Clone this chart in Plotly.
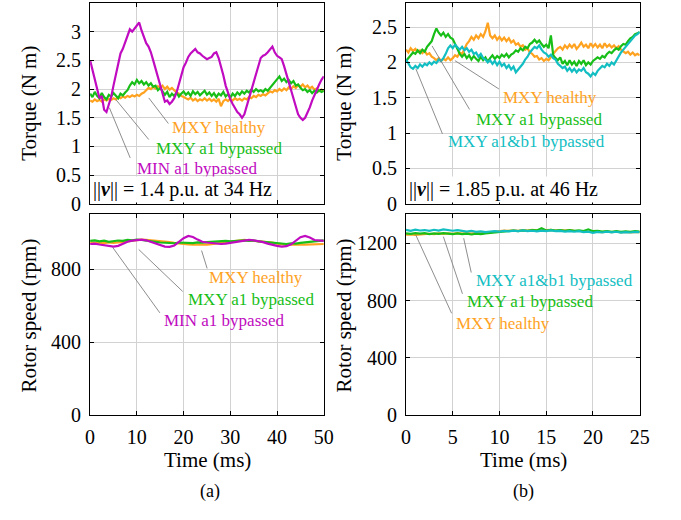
import plotly.graph_objects as go

# ---------------- data ----------------
# (a) 1.4 p.u. at 34 Hz, 0.5 ms sampling for torque, 1 ms for speed
t_a_torque = [i * 0.5 for i in range(101)]
t_a_speed = [float(i) for i in range(51)]
# (b) 1.85 p.u. at 46 Hz, 0.25 ms sampling for torque, 0.5 ms for speed
t_b_torque = [i * 0.25 for i in range(101)]
t_b_speed = [i * 0.5 for i in range(51)]

torque_a_mxy_healthy = [
    1.80, 1.78, 1.82, 1.79, 1.81, 1.78, 1.82, 1.80, 1.83, 1.81, 1.84, 1.82, 1.86, 1.84, 1.87, 1.85,
    1.88, 1.86, 1.89, 1.87, 1.90, 1.88, 1.92, 1.94, 1.98, 2.02, 2.00, 2.04, 2.01, 2.05, 2.02, 2.06,
    2.00, 2.04, 1.99, 2.02, 1.98, 1.94, 1.92, 1.88, 1.86, 1.84, 1.82, 1.85, 1.80, 1.83, 1.79, 1.82,
    1.80, 1.84, 1.80, 1.83, 1.79, 1.82, 1.78, 1.83, 1.70, 1.79, 1.82, 1.79, 1.83, 1.80, 1.84, 1.81,
    1.83, 1.80, 1.84, 1.82, 1.86, 1.84, 1.88, 1.86, 1.90, 1.88, 1.91, 1.89, 1.93, 1.96, 1.94, 1.98,
    1.96, 2.00, 1.97, 2.01, 1.98, 2.03, 2.00, 2.05, 2.02, 2.07, 2.04, 2.08, 2.03, 2.06, 2.01, 2.04,
    1.99, 2.01, 1.96, 1.99, 1.97]
torque_a_mxy_a1 = [
    1.92, 1.86, 1.95, 1.88, 1.84, 1.93, 1.86, 1.82, 1.90, 1.87, 1.93, 1.88, 1.84, 1.92, 1.89, 1.94,
    1.98, 2.06, 2.12, 2.08, 2.16, 2.10, 2.14, 2.08, 2.12, 2.06, 2.10, 2.04, 2.06, 1.98, 2.02, 1.96,
    1.90, 1.95, 1.86, 1.92, 1.88, 1.94, 1.87, 1.92, 1.96, 1.90, 1.94, 1.88, 1.96, 1.91, 1.95, 1.89,
    1.93, 1.97, 1.90, 1.94, 1.88, 1.93, 1.86, 1.92, 1.89, 1.95, 1.87, 1.91, 1.85, 1.92, 1.88, 1.94,
    1.90, 1.96, 1.92, 1.97, 1.94, 1.99, 1.95, 2.00, 1.96, 1.98, 1.95, 2.00, 1.97, 2.02, 2.06, 2.12,
    2.16, 2.22, 2.14, 2.18, 2.12, 2.16, 2.10, 2.14, 2.06, 2.08, 2.02, 1.98, 2.00, 1.95, 1.98, 1.93,
    1.97, 1.94, 1.98, 1.95, 1.97]
torque_a_min_a1 = [
    2.50, 2.34, 2.14, 1.98, 1.84, 1.88, 1.64, 1.60, 1.72, 1.86, 2.06, 2.26, 2.44, 2.62, 2.70, 2.82,
    2.96, 3.04, 3.00, 3.06, 3.10, 3.16, 3.02, 2.90, 2.80, 2.74, 2.64, 2.50, 2.36, 2.22, 2.06, 1.90,
    1.78, 1.80, 1.74, 1.78, 1.84, 1.94, 2.08, 2.22, 2.38, 2.46, 2.56, 2.62, 2.66, 2.70, 2.64, 2.62,
    2.58, 2.55, 2.52, 2.54, 2.56, 2.62, 2.64, 2.54, 2.40, 2.24, 2.06, 1.92, 1.82, 1.74, 1.66, 1.60,
    1.56, 1.50, 1.56, 1.70, 1.88, 2.00, 2.12, 2.26, 2.42, 2.54, 2.58, 2.60, 2.64, 2.70, 2.74, 2.64,
    2.58, 2.55, 2.52, 2.40, 2.24, 2.12, 1.98, 1.84, 1.70, 1.56, 1.50, 1.46, 1.50, 1.58, 1.68, 1.80,
    1.90, 2.00, 2.08, 2.16, 2.22]

speed_a_mxy_healthy = [
    945, 944, 946, 943, 946, 944, 947, 948, 952, 956, 960, 962, 960, 958, 955, 952, 950, 948, 944,
    940, 938, 936, 935, 934, 936, 935, 937, 940, 944, 948, 952, 955, 958, 960, 958, 956, 954, 952,
    950, 946, 940, 936, 935, 934, 936, 935, 934, 936, 935, 937, 938]
speed_a_mxy_a1 = [
    955, 958, 952, 956, 950, 953, 957, 955, 960, 958, 962, 960, 958, 955, 950, 946, 944, 945, 942,
    946, 944, 945, 943, 947, 945, 948, 950, 952, 950, 955, 952, 954, 956, 958, 955, 957, 952, 950,
    948, 945, 940, 942, 938, 942, 940, 944, 946, 950, 952, 955, 958]
speed_a_min_a1 = [
    938, 940, 935, 932, 928, 924, 928, 940, 950, 956, 960, 962, 958, 950, 940, 930, 924, 922, 930,
    950, 970, 982, 976, 962, 950, 946, 942, 940, 938, 940, 944, 950, 956, 960, 960, 958, 955, 948,
    940, 932, 928, 924, 926, 936, 955, 975, 982, 974, 960, 956, 955]

torque_b_mxy_healthy = [
    2.18, 2.14, 2.20, 2.16, 2.19, 2.15, 2.17, 2.13, 2.16, 2.11, 2.13, 2.08, 2.06, 2.03, 2.06, 2.02,
    2.05, 2.03, 2.07, 2.03, 2.06, 2.10, 2.08, 2.14, 2.12, 2.20, 2.26, 2.30, 2.36, 2.32, 2.38, 2.34,
    2.40, 2.36, 2.44, 2.56, 2.38, 2.34, 2.38, 2.32, 2.36, 2.31, 2.35, 2.30, 2.34, 2.28, 2.31, 2.25,
    2.27, 2.22, 2.24, 2.18, 2.20, 2.14, 2.12, 2.08, 2.09, 2.04, 2.06, 2.02, 2.05, 2.03, 2.08, 2.12,
    2.16, 2.20, 2.22, 2.18, 2.24, 2.20, 2.25, 2.21, 2.26, 2.19, 2.23, 2.28, 2.22, 2.25, 2.20, 2.27,
    2.22, 2.26, 2.21, 2.25, 2.20, 2.27, 2.22, 2.25, 2.21, 2.24, 2.20, 2.23, 2.18, 2.16, 2.13, 2.15,
    2.11, 2.14, 2.10, 2.12, 2.10]
torque_b_mxy_a1 = [
    2.02, 2.06, 2.10, 2.14, 2.12, 2.17, 2.13, 2.18, 2.15, 2.22, 2.26, 2.30, 2.40, 2.48, 2.42, 2.38,
    2.42, 2.36, 2.40, 2.35, 2.33, 2.26, 2.18, 2.12, 2.08, 2.12, 2.06, 2.10, 2.04, 2.09, 2.05, 2.02,
    2.08, 2.03, 2.07, 2.01, 2.06, 2.10, 2.05, 2.09, 2.06, 2.11, 2.08, 2.12, 2.07, 2.11, 2.13, 2.17,
    2.15, 2.20, 2.17, 2.22, 2.20, 2.26, 2.28, 2.32, 2.28, 2.31, 2.26, 2.22, 2.25, 2.20, 2.38, 2.10,
    2.06, 2.03, 2.07, 1.98, 2.02, 1.96, 2.03, 1.97, 2.01, 1.95, 2.02, 1.98, 2.03, 1.96, 2.00, 1.97,
    2.02, 2.04, 2.07, 2.05, 2.09, 2.07, 2.12, 2.15, 2.13, 2.17, 2.20, 2.18, 2.23, 2.26, 2.25, 2.30,
    2.34, 2.36, 2.40, 2.41, 2.43]
torque_b_mxy_a1b1 = [
    2.04, 1.98, 1.93, 1.91, 1.95, 1.92, 1.97, 1.94, 1.98, 1.96, 2.00, 1.97, 2.01, 1.99, 2.04, 2.02,
    2.06, 2.12, 2.20, 2.24, 2.20, 2.25, 2.21, 2.18, 2.22, 2.17, 2.20, 2.15, 2.18, 2.12, 2.14, 2.08,
    2.12, 2.06, 2.04, 2.00, 2.03, 1.98, 2.02, 1.96, 2.01, 1.95, 1.98, 1.92, 1.96, 1.90, 1.94, 1.86,
    1.90, 1.94, 1.98, 2.04, 2.08, 2.14, 2.18, 2.22, 2.20, 2.24, 2.18, 2.14, 2.12, 2.08, 2.11, 2.06,
    2.04, 1.98, 1.95, 1.92, 1.94, 1.88, 1.92, 1.87, 1.91, 1.86, 1.90, 1.88, 1.92, 1.86, 1.84, 1.80,
    1.85, 1.82, 1.88, 1.92, 1.95, 1.93, 1.98, 1.95, 2.00, 1.97, 2.03, 2.08, 2.14, 2.18, 2.22, 2.26,
    2.30, 2.34, 2.38, 2.40, 2.43]

speed_b_mxy_healthy = [
    1258, 1261, 1257, 1260, 1262, 1265, 1263, 1267, 1264, 1268, 1265, 1269, 1266, 1270, 1267, 1271,
    1268, 1272, 1276, 1280, 1284, 1287, 1285, 1289, 1286, 1291, 1288, 1292, 1289, 1293, 1290, 1292,
    1288, 1291, 1287, 1290, 1286, 1284, 1282, 1280, 1278, 1281, 1277, 1280, 1276, 1279, 1275, 1278,
    1274, 1277, 1276]
speed_b_mxy_a1 = [
    1268, 1264, 1270, 1266, 1269, 1263, 1268, 1265, 1270, 1266, 1263, 1267, 1262, 1266, 1260, 1265,
    1262, 1267, 1270, 1275, 1280, 1284, 1282, 1287, 1284, 1289, 1286, 1290, 1288, 1303, 1288, 1292,
    1287, 1291, 1286, 1290, 1285, 1289, 1284, 1296, 1283, 1286, 1280, 1284, 1279, 1283, 1278, 1282,
    1279, 1283, 1280]
speed_b_mxy_a1b1 = [
    1292, 1286, 1294, 1288, 1291, 1285, 1293, 1287, 1295, 1289, 1286, 1290, 1283, 1280, 1285, 1278,
    1282, 1276, 1281, 1284, 1280, 1285, 1282, 1287, 1283, 1288, 1284, 1286, 1282, 1287, 1284, 1288,
    1283, 1285, 1280, 1284, 1279, 1283, 1276, 1280, 1272, 1278, 1274, 1280, 1275, 1279, 1273, 1277,
    1274, 1278, 1276]

torque_ticks_a = [0, 0.5, 1, 1.5, 2, 2.5, 3]
torque_ticks_b = [0, 0.5, 1, 1.5, 2, 2.5]
speed_ticks_a = [0, 400, 800]
speed_ticks_b = [0, 400, 800, 1200]
time_ticks_a = [0, 10, 20, 30, 40, 50]
time_ticks_b = [0, 5, 10, 15, 20, 25]

# ---------------- styling ----------------
ORANGE = "#FFA21F"
GREEN = "#17BE17"
MAGENTA = "#C00BC0"
CYAN = "#12BEC2"
LEADER = "#808080"
SERIF = "Liberation Serif, Times New Roman, serif"
LW = 2.2

fig = go.Figure()


def add_line(x, y, color, xa, ya):
    fig.add_trace(go.Scatter(x=x, y=y, mode="lines", xaxis=xa, yaxis=ya,
                             line=dict(color=color, width=LW), showlegend=False,
                             hoverinfo="skip"))


# (a) torque
add_line(t_a_torque, torque_a_mxy_healthy, ORANGE, "x", "y")
add_line(t_a_torque, torque_a_mxy_a1, GREEN, "x", "y")
add_line(t_a_torque, torque_a_min_a1, MAGENTA, "x", "y")
# (b) torque
add_line(t_b_torque, torque_b_mxy_healthy, ORANGE, "x2", "y2")
add_line(t_b_torque, torque_b_mxy_a1, GREEN, "x2", "y2")
add_line(t_b_torque, torque_b_mxy_a1b1, CYAN, "x2", "y2")
# (a) speed
add_line(t_a_speed, speed_a_mxy_healthy, ORANGE, "x3", "y3")
add_line(t_a_speed, speed_a_mxy_a1, GREEN, "x3", "y3")
add_line(t_a_speed, speed_a_min_a1, MAGENTA, "x3", "y3")
# (b) speed
add_line(t_b_speed, speed_b_mxy_healthy, ORANGE, "x4", "y4")
add_line(t_b_speed, speed_b_mxy_a1, GREEN, "x4", "y4")
add_line(t_b_speed, speed_b_mxy_a1b1, CYAN, "x4", "y4")

tickfont = dict(family=SERIF, size=20, color="black")
common = dict(showline=True, linecolor="black", linewidth=1, mirror="ticks",
              ticks="inside", ticklen=4, tickcolor="black", tickwidth=1,
              showgrid=True, gridcolor="#d2d2d2", gridwidth=1, zeroline=False,
              tickfont=tickfont, ticklabelstandoff=4)

dom_left = [0.1278, 0.4787]
dom_right = [0.6021, 0.9530]
dom_top = [0.5995, 0.9942]
dom_bot = [0.1840, 0.5788]

fig.update_layout(
    width=681, height=520, margin=dict(l=0, r=0, t=0, b=0),
    paper_bgcolor="white", plot_bgcolor="white",
    font=dict(family=SERIF, color="black"),
    xaxis=dict(domain=dom_left, anchor="y", range=[0, 50], tickvals=time_ticks_a,
               showticklabels=False, **common),
    yaxis=dict(domain=dom_top, anchor="x", range=[0, 3.5], tickvals=torque_ticks_a,
               ticktext=[f"{v:g}" for v in torque_ticks_a], **common),
    xaxis2=dict(domain=dom_right, anchor="y2", range=[0, 25], tickvals=time_ticks_b,
                showticklabels=False, **common),
    yaxis2=dict(domain=dom_top, anchor="x2", range=[0, 2.84], tickvals=torque_ticks_b,
                ticktext=[f"{v:g}" for v in torque_ticks_b], **common),
    xaxis3=dict(domain=dom_left, anchor="y3", range=[0, 50], tickvals=time_ticks_a, **common),
    yaxis3=dict(domain=dom_bot, anchor="x3", range=[0, 1100], tickvals=speed_ticks_a, **common),
    xaxis4=dict(domain=dom_right, anchor="y4", range=[0, 25], tickvals=time_ticks_b, **common),
    yaxis4=dict(domain=dom_bot, anchor="x4", range=[0, 1400], tickvals=speed_ticks_b, **common),
)

# leader lines from curves to their labels
leaders = [
    ("x", "y", 12.55, 1.846, 16.74, 1.40),
    ("x", "y", 5.5, 1.817, 12.55, 1.12),
    ("x", "y", 4.12, 1.675, 8.58, 0.80),
    ("x2", "y2", 5.23, 2.025, 9.94, 1.624),
    ("x2", "y2", 2.79, 2.232, 6.8, 1.334),
    ("x2", "y2", 1.05, 1.91, 3.9, 0.989),
    ("x3", "y3", 23.85, 902, 25.04, 804),
    ("x3", "y3", 10.4, 908, 19.81, 678),
    ("x3", "y3", 4.81, 920, 14.92, 561),
    ("x4", "y4", 6.17, 1234, 6.98, 995),
    ("x4", "y4", 4.0, 1245, 6.04, 847),
    ("x4", "y4", 1.05, 1256, 4.88, 711),
]
for xr, yr, x0, y0, x1, y1 in leaders:
    fig.add_shape(type="line", xref=xr, yref=yr, x0=x0, y0=y0, x1=x1, y1=y1,
                  line=dict(color=LEADER, width=0.9))

labels = [
    ("x", "y", 27.6, 1.33, "MXY healthy", ORANGE),
    ("x", "y", 27.5, 0.97, "MXY a1 bypassed", GREEN),
    ("x", "y", 22.8, 0.62, "MIN a1 bypassed", MAGENTA),
    ("x2", "y2", 15.38, 1.506, "MXY healthy", ORANGE),
    ("x2", "y2", 14.28, 1.196, "MXY a1 bypassed", GREEN),
    ("x2", "y2", 12.9, 0.888, "MXY a1&amp;b1 bypassed", CYAN),
    ("x3", "y3", 35.56, 755, "MXY healthy", ORANGE),
    ("x3", "y3", 34.46, 633, "MXY a1 bypassed", GREEN),
    ("x3", "y3", 28.66, 517, "MIN a1 bypassed", MAGENTA),
    ("x4", "y4", 15.87, 938, "MXY a1&amp;b1 bypassed", CYAN),
    ("x4", "y4", 13.25, 791, "MXY a1 bypassed", GREEN),
    ("x4", "y4", 10.33, 643, "MXY healthy", ORANGE),
]
for xr, yr, x, y, text, color in labels:
    fig.add_annotation(xref=xr, yref=yr, x=x, y=y, text=text, showarrow=False,
                       xanchor="center", yanchor="middle",
                       font=dict(family=SERIF, size=17, color=color))

# operating-point boxes
for xr, yr, text in [("x domain", "y domain",
                      "||<b><i>ν</i></b>||&nbsp;=&nbsp;1.4 p.u. at 34 Hz"),
                     ("x2 domain", "y2 domain",
                      "||<b><i>ν</i></b>||&nbsp;=&nbsp;1.85 p.u. at 46 Hz")]:
    fig.add_annotation(xref=xr, yref=yr, x=0, y=0, xanchor="left", yanchor="bottom",
                       xshift=1, yshift=1, text=text, showarrow=False,
                       bgcolor="white", borderpad=1,
                       font=dict(family=SERIF, size=20, color="black"))

# axis titles
titlefont = dict(family=SERIF, size=21, color="black")
for x, y, text, ang in [(0.0367, 0.797, "Torque (N m)", -90),
                        (0.0367, 0.381, "Rotor speed (rpm)", -90),
                        (0.5095, 0.797, "Torque (N m)", -90),
                        (0.5095, 0.381, "Rotor speed (rpm)", -90),
                        (0.3035, 1 - 470 / 520, "Time (ms)", 0),
                        (0.7790, 1 - 470 / 520, "Time (ms)", 0)]:
    fig.add_annotation(xref="paper", yref="paper", x=x, y=y, text=text, textangle=ang,
                       showarrow=False, xanchor="center", yanchor="middle", font=titlefont)

for x, text in [(0.3084, "(a)"), (0.7790, "(b)")]:
    fig.add_annotation(xref="paper", yref="paper", x=x, y=1 - 502 / 520, text=text,
                       showarrow=False, xanchor="center", yanchor="middle",
                       font=dict(family=SERIF, size=18, color="black"))

fig.write_html("out.html")
